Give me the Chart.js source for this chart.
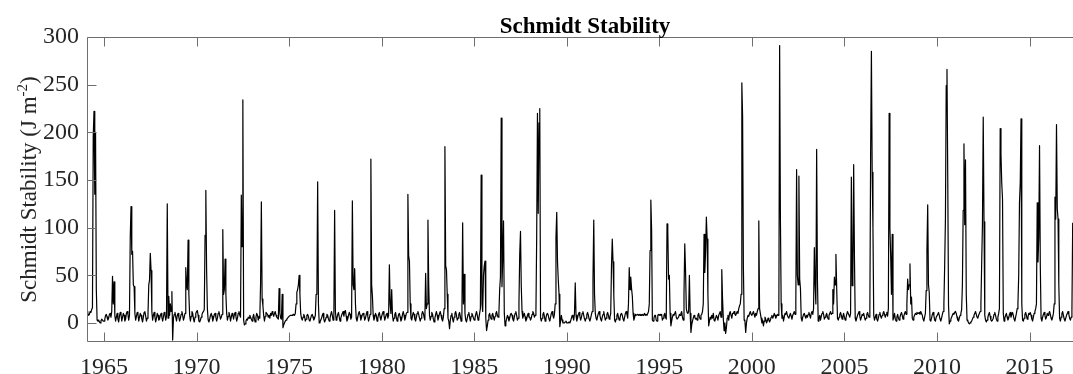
<!DOCTYPE html>
<html>
<head>
<meta charset="utf-8">
<script src="https://cdn.jsdelivr.net/npm/chart.js@4.4.1/dist/chart.umd.min.js"></script>
<style>
  html, body { margin: 0; padding: 0; background: #ffffff; overflow: hidden; }
  #wrap { position: relative; width: 1090px; height: 374px; }
</style>
</head>
<body>
<div id="wrap"><canvas id="chart"></canvas></div>
<script>
// Labels
const chartTitle = 'Schmidt Stability';
const yAxisTitle = 'Schmidt Stability (J m';
const yAxisUnitExp = '-2';
const yAxisTitleEnd = ')';

// Axis ticks
const xTickYears = [1965, 1970, 1975, 1980, 1985, 1990, 1995, 2000, 2005, 2010, 2015];
const yTickValues = [0, 50, 100, 150, 200, 250, 300];

// Sampling: half-monthly values starting January 1964
const firstYear = 1964;
const samplesPerYear = 24;

// Schmidt stability (J m^-2), one row of 24 half-month samples per year
const values1960s = [
  10,11,12,10,8,9,12,11,14,16,195,222,135,200,35,3,2,3,1,0,2,4,3,2,      // 1964
  2,4,8,9,6,3,5,9,10,6,12,49,20,43,8,2,6,10,4,1,7,11,9,2,                // 1965
  6,10,8,2,4,10,12,9,3,8,90,122,72,75,40,38,10,3,7,11,9,2,6,10,          // 1966
  8,4,1,6,11,12,7,2,5,9,40,45,73,55,12,3,8,11,6,1,5,10,8,3,              // 1967
  4,8,10,6,2,6,11,9,3,7,125,5,28,8,20,12,33,-18,5,9,11,6,2,8,            // 1968
  10,6,2,5,9,12,8,3,6,10,58,40,35,87,30,8,2,7,12,10,4,1,6,10             // 1969
];
const values1970s = [
  12,13,8,2,1,3,6,9,11,12,14,92,139,56,15,3,1,4,8,10,7,2,5,9,            // 1970
  10,6,2,5,10,12,8,4,6,9,98,30,35,67,30,10,3,7,11,8,2,6,10,8,            // 1971
  4,9,11,7,2,5,10,12,8,6,134,80,234,3,-2,-1,2,4,3,6,5,8,6,4,             // 1972
  2,6,9,4,1,6,10,8,3,7,5,42,127,25,18,8,2,7,11,10,9,6,8,5,               // 1973
  10,8,12,9,7,10,12,8,6,5,4,36,10,5,4,30,-5,-2,0,2,3,4,5,6,              // 1974
  7,7,8,8,8,9,9,8,10,20,32,35,40,50,30,10,5,3,6,9,7,2,4,8,               // 1975
  9,7,3,2,5,8,9,6,3,5,8,30,33,148,20,0,1,3,5,8,10,4,1,3,                 // 1976
  6,9,8,4,2,5,9,12,8,3,6,118,12,3,5,9,11,6,2,5,8,10,12,7,                // 1977
  12,13,7,2,4,8,11,9,4,6,128,40,35,57,20,5,2,6,10,12,8,3,6,9,            // 1978
  10,8,3,5,9,12,7,2,5,9,172,40,28,8,3,6,10,8,2,5,9,11,6,3                // 1979
];
const values1980s = [
  7,10,12,8,3,6,9,10,5,8,61,20,10,35,8,2,5,9,11,6,2,5,9,10,              // 1980
  6,2,4,9,12,8,3,6,10,11,135,70,65,20,5,3,8,11,9,4,2,6,10,12,            // 1981
  9,5,2,5,9,12,10,6,3,52,15,20,108,40,8,3,7,11,9,4,1,5,9,12,             // 1982
  8,3,6,10,12,8,4,2,6,15,185,60,56,30,5,2,-6,3,8,10,4,1,6,10,            // 1983
  12,8,3,5,9,11,7,2,6,105,20,51,10,3,1,5,9,11,6,2,7,10,8,5,              // 1984
  3,5,9,12,8,3,5,10,15,155,20,12,50,60,65,5,-8,-3,3,8,10,6,4,8,          // 1985
  10,6,3,7,10,12,8,6,10,35,48,215,38,70,107,10,-3,1,4,8,6,2,5,9,         // 1986
  10,8,4,2,6,10,12,8,3,5,20,72,96,39,12,5,8,10,6,2,4,8,10,6,             // 1987
  6,3,5,9,12,10,6,8,10,91,220,115,210,225,5,2,5,9,11,7,2,5,9,10,         // 1988
  8,4,2,6,10,12,8,5,9,20,90,116,64,45,30,-4,2,8,3,0,0,0,1,2              // 1989
];
const values1990s = [
  0,0,0,1,0,2,5,8,6,3,10,42,8,2,5,9,11,7,3,6,10,12,8,4,                  // 1990
  2,5,9,11,8,4,2,5,9,12,46,108,30,10,5,3,7,10,12,8,4,2,6,9,              // 1991
  12,7,3,5,9,11,8,4,6,10,60,88,64,29,3,1,4,8,10,6,3,5,9,10,              // 1992
  8,4,2,6,10,12,9,5,20,58,35,48,36,28,10,3,6,9,8,8,9,8,9,8,              // 1993
  9,8,9,8,9,10,8,9,8,10,12,20,76,129,98,3,2,5,8,8,3,2,8,9,               // 1994
  8,9,8,9,3,5,8,10,6,4,104,96,46,50,10,-3,2,6,9,8,10,12,6,4,             // 1995
  4,6,9,8,10,12,6,3,30,83,55,15,11,10,12,50,10,-10,-2,2,5,8,6,4,         // 1996
  5,3,8,10,6,4,8,9,12,20,93,53,75,111,88,30,-3,2,6,4,8,5,10,3,           // 1997
  2,5,8,6,3,8,10,12,6,56,25,4,-8,0,-11,-5,5,8,3,10,12,8,5,10,            // 1998
  10,12,9,8,10,12,10,15,18,20,30,252,216,60,3,2,-10,0,5,8,7,10,12,9      // 1999
];
const values2000s = [
  8,10,12,9,6,10,8,12,15,107,15,10,5,0,3,-3,2,6,4,0,2,5,3,1,             // 2000
  3,6,8,5,7,10,8,5,7,9,8,10,291,111,20,5,8,2,6,10,9,12,8,6,              // 2001
  5,8,10,7,4,8,10,12,9,20,161,50,40,154,46,36,5,2,6,9,10,7,5,8,          // 2002
  6,9,11,8,5,10,12,9,15,79,40,20,182,46,2,5,8,3,7,10,12,9,4,6,           // 2003
  8,10,6,4,8,10,12,9,10,35,20,48,40,72,36,5,3,6,9,11,8,4,7,10,           // 2004
  6,3,5,9,12,10,8,6,10,153,39,50,166,70,5,2,5,8,10,12,7,3,6,9,           // 2005
  8,10,6,3,5,9,11,8,6,12,179,285,158,100,8,3,6,9,4,2,5,9,11,7,           // 2006
  5,8,10,12,9,6,9,11,7,15,220,100,70,30,93,3,6,10,4,2,6,9,5,3,           // 2007
  6,9,11,8,4,7,10,12,9,20,46,35,40,62,20,27,5,3,6,8,10,9,11,10,          // 2008
  10,11,9,12,10,8,4,2,6,10,34,76,124,40,32,3,2,5,9,11,8,3,2,6            // 2009
];
const values2010s = [
  6,9,11,8,4,2,5,9,12,20,60,110,249,266,151,18,-1,2,4,6,8,10,9,11,       // 2010
  12,10,6,3,2,5,8,10,14,40,118,188,103,171,30,3,2,0,-1,0,1,2,4,6,        // 2011
  8,10,12,9,6,5,8,10,12,20,63,104,216,106,8,3,1,3,6,9,11,7,3,2,          // 2012
  3,5,9,11,8,4,2,6,10,15,204,177,147,130,10,2,5,8,10,6,3,5,9,11,         // 2013
  6,9,11,8,4,2,6,10,15,20,50,126,147,214,20,3,2,5,9,11,8,4,6,10,         // 2014
  9,11,8,4,2,6,10,12,15,20,126,64,90,186,60,5,2,6,9,11,8,4,6,10,         // 2015
  8,10,12,9,5,3,6,10,20,132,109,208,120,109,40,5,2,6,10,12,8,4,2,5,      // 2016
  8,10,12,9,5,3,6,12,105                                                 // 2017
];

const stability = [].concat(values1960s, values1970s, values1980s, values1990s, values2000s, values2010s);
const points = stability.map((v, i) => ({ x: firstYear + i / samplesPerYear, y: v }));

const serif = '"Liberation Serif", "Times New Roman", serif';
const frameColor = '#6f6f6f';
const textColor = '#262626';

// Box frame, inward tick marks, title and y-axis title with superscript
const framePlugin = {
  id: 'matlabFrame',
  afterDraw(chart) {
    const { ctx, chartArea: a, scales: { x, y } } = chart;
    const L = Math.round(a.left) + 0.5;
    const R = Math.round(a.right) - 0.5;
    const T = Math.round(a.top) + 0.5;
    const B = Math.round(a.bottom) - 0.5;
    const tl = 9;
    ctx.save();
    ctx.strokeStyle = frameColor;
    ctx.lineWidth = 1;
    ctx.beginPath();
    ctx.rect(L, T, R - L, B - T);
    xTickYears.forEach(v => {
      const px = Math.round(x.getPixelForValue(v)) + 0.5;
      ctx.moveTo(px, B); ctx.lineTo(px, B - tl);
      ctx.moveTo(px, T); ctx.lineTo(px, T + tl);
    });
    yTickValues.forEach(v => {
      const py = Math.round(y.getPixelForValue(v)) + 0.5;
      ctx.moveTo(L, py); ctx.lineTo(L + tl, py);
      ctx.moveTo(R, py); ctx.lineTo(R - tl, py);
    });
    ctx.stroke();

    // Title
    ctx.fillStyle = '#000000';
    ctx.font = 'bold 23px ' + serif;
    ctx.textAlign = 'center';
    ctx.textBaseline = 'alphabetic';
    ctx.fillText(chartTitle, (a.left + a.right) / 2, 33);

    // Y-axis title, rotated
    const mainFont = '23px ' + serif;
    const supFont = '15px ' + serif;
    ctx.font = mainFont;
    const w1 = ctx.measureText(yAxisTitle).width;
    const w3 = ctx.measureText(yAxisTitleEnd).width;
    ctx.font = supFont;
    const w2 = ctx.measureText(yAxisUnitExp).width;
    const total = w1 + w2 + w3;
    ctx.translate(36, (a.top + a.bottom) / 2);
    ctx.rotate(-Math.PI / 2);
    ctx.fillStyle = textColor;
    ctx.textAlign = 'left';
    let cx = -total / 2;
    ctx.font = mainFont;
    ctx.fillText(yAxisTitle, cx, 0);
    cx += w1;
    ctx.font = supFont;
    ctx.fillText(yAxisUnitExp, cx, -9);
    cx += w2;
    ctx.font = mainFont;
    ctx.fillText(yAxisTitleEnd, cx, 0);
    ctx.restore();
  }
};

new Chart(document.getElementById('chart'), {
  type: 'line',
  data: {
    datasets: [{
      label: chartTitle,
      data: points,
      borderColor: '#000000',
      borderWidth: 1.2,
      borderJoinStyle: 'round',
      pointRadius: 0,
      tension: 0,
      fill: false
    }]
  },
  options: {
    responsive: true,
    maintainAspectRatio: false,
    animation: false,
    events: [],
    layout: { padding: { top: 37, right: 7, left: 0, bottom: 0 } },
    plugins: { legend: { display: false }, title: { display: false }, tooltip: { enabled: false } },
    scales: {
      x: {
        type: 'linear',
        min: 1964.08,
        max: 2017.89,
        afterBuildTicks: s => { s.ticks = xTickYears.map(v => ({ value: v })); },
        afterFit: s => { s.height = 32; },
        grid: { display: false, drawTicks: false },
        border: { display: false },
        ticks: {
          autoSkip: false, maxRotation: 0, padding: 11, color: textColor,
          font: { family: serif, size: 24 },
          callback: v => String(v)
        }
      },
      y: {
        type: 'linear',
        min: -20,
        max: 300,
        afterBuildTicks: s => { s.ticks = yTickValues.map(v => ({ value: v })); },
        afterFit: s => { s.width = 87; },
        grid: { display: false, drawTicks: false },
        border: { display: false },
        ticks: {
          padding: 8, color: textColor,
          font: { family: serif, size: 24 },
          callback: v => String(v)
        }
      }
    }
  },
  plugins: [framePlugin]
});
</script>
</body>
</html>
